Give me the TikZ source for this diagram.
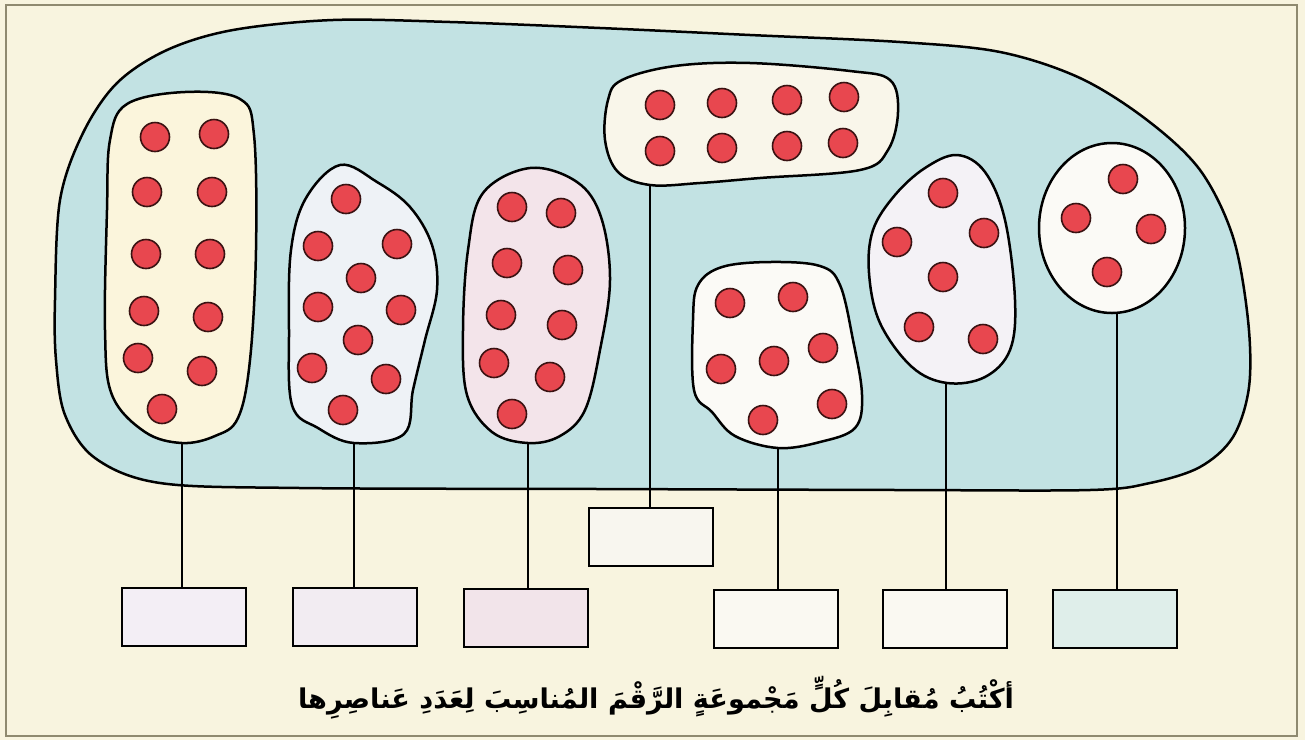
\documentclass[tikz,border=0pt]{standalone}
\usepackage{fontspec}
\usepackage{graphicx}
\newfontfamily\arabicfont[Script=Arabic]{DejaVu Sans}
\TeXXeTstate=1
\definecolor{paper}{HTML}{F8F4DF}
\definecolor{framec}{HTML}{8F8A70}
\definecolor{sea}{HTML}{C2E2E3}
\definecolor{dotred}{HTML}{E8474F}
\definecolor{dotrim}{HTML}{3A1212}
\definecolor{fcream}{HTML}{FBF5DC}
\definecolor{fblue}{HTML}{EEF2F6}
\definecolor{fpink}{HTML}{F3E4EA}
\definecolor{fcream2}{HTML}{F9F6EA}
\definecolor{fwhite}{HTML}{FBFAF6}
\definecolor{flav}{HTML}{F4F2F6}
\definecolor{bx1}{HTML}{F3EEF5}
\definecolor{bx2}{HTML}{F2ECF2}
\definecolor{bx3}{HTML}{F2E4EA}
\definecolor{bx4}{HTML}{F8F6EF}
\definecolor{bx5}{HTML}{FAF9F2}
\definecolor{bx7}{HTML}{DFEEEA}
\tikzset{
  outline/.style={draw=black, line width=1.25pt},
  setblob/.style={outline, smooth cycle, tension=0.6},
  answerbox/.style={draw=black, line width=1.3pt, minimum width=62pt, minimum height=29pt, inner sep=0pt},
  link/.style={draw=black, line width=1pt},
  reddot/.style={fill=dotred, draw=dotrim, line width=0.8pt}
}
\begin{document}
\begin{tikzpicture}[x=0.5pt, y=-0.5pt]
\useasboundingbox (0,0) rectangle (1305,740);
\fill[paper] (0,0) rectangle (1305,740);
\draw[framec, line width=1.2pt] (6,5) rectangle (1297,736);

% big set
\draw[setblob, fill=sea, tension=0.55] plot coordinates {
 (55,300) (60,200) (83,133) (117,83) (167,50) (233,30) (333,20) (450,22)
 (600,28) (750,35) (900,42) (1000,52) (1080,78) (1147,120) (1200,170)
 (1233,237) (1248,320) (1249,387) (1233,437) (1200,467) (1150,483)
 (1090,490) (900,490) (600,489) (300,488) (160,483) (95,458) (65,415) (56,360)};

% set 1
\draw[setblob, fill=fcream] plot coordinates {
 (110,140) (127,104) (185,92) (240,99) (254,135) (256,250) (250,360)
 (238,418) (215,436) (182,443) (145,432) (112,395) (105,330) (107,210)};
\coordinate (b1) at (182,443);
% set 2
\draw[setblob, fill=fblue] plot coordinates {
 (340,165) (377,182) (410,207) (432,245) (437,290) (425,340) (413,390)
 (404,434) (354,443) (318,428) (292,405) (289,330) (291,250) (306,198)};
\coordinate (b2) at (354,443);
% set 3
\draw[setblob, fill=fpink] plot coordinates {
 (530,168) (577,182) (601,217) (610,280) (600,350) (585,410) (560,436)
 (528,443) (492,432) (467,395) (463,330) (468,250) (483,193)};
\coordinate (b3) at (528,443);
% set 4
\draw[setblob, fill=fcream2] plot coordinates {
 (622,80) (675,66) (750,63) (850,71) (890,80) (898,112) (888,150)
 (860,170) (760,178) (700,183) (650,185) (618,172) (605,140) (608,100)};
\coordinate (b4) at (650,185);
% set 5
\draw[setblob, fill=fwhite] plot coordinates {
 (698,285) (722,267) (770,262) (820,266) (840,285) (853,340) (862,395)
 (855,428) (820,442) (778,448) (735,436) (712,412) (694,390) (693,320)};
\coordinate (b5) at (778,448);
% set 6
\draw[setblob, fill=flav] plot coordinates {
 (957,155) (985,172) (1005,220) (1015,300) (1010,350) (985,377) (947,383)
 (912,367) (880,323) (869,273) (873,230) (895,195) (925,168)};
\coordinate (b6) at (946,383);
% set 7
\draw[outline, fill=fwhite] (1112,228) ellipse [x radius=73, y radius=85];
\coordinate (b7) at (1117,313);

% dots
\foreach \p in {(155,137),(214,134),(147,192),(212,192),(146,254),(210,254),
  (144,311),(208,317),(138,358),(202,371),(162,409),
  (346,199),(318,246),(397,244),(361,278),(318,307),(401,310),(358,340),(312,368),(386,379),(343,410),
  (512,207),(561,213),(507,263),(568,270),(501,315),(562,325),(494,363),(550,377),(512,414),
  (660,105),(722,103),(787,100),(844,97),(660,151),(722,148),(787,146),(843,143),
  (730,303),(793,297),(721,369),(774,361),(823,348),(763,420),(832,404),
  (943,193),(897,242),(984,233),(943,277),(919,327),(983,339),
  (1123,179),(1076,218),(1151,229),(1107,272)}
  \draw[reddot] \p circle [radius=14.5];

% answer boxes
\node[answerbox, fill=bx1] (box1) at (184,617) {};
\node[answerbox, fill=bx2] (box2) at (355,617) {};
\node[answerbox, fill=bx3] (box3) at (526,618) {};
\node[answerbox, fill=bx4] (box4) at (651,537) {};
\node[answerbox, fill=bx5] (box5) at (776,619) {};
\node[answerbox, fill=bx5] (box6) at (945,619) {};
\node[answerbox, fill=bx7] (box7) at (1115,619) {};

\draw[link] (b1) -- (b1 |- box1.north);
\draw[link] (b2) -- (b2 |- box2.north);
\draw[link] (b3) -- (b3 |- box3.north);
\draw[link] (b4) -- (b4 |- box4.north);
\draw[link] (b5) -- (b5 |- box5.north);
\draw[link] (b6) -- (b6 |- box6.north);
\draw[link] (b7) -- (b7 |- box7.north);

% instruction
\node[inner sep=0pt] (instr) at (656,698) {\resizebox{358pt}{!}{\arabicfont\bfseries\beginR أكْتُبُ مُقابِلَ كُلٍّ مَجْموعَةٍ الرَّقْمَ المُناسِبَ لِعَدَدِ عَناصِرِها\endR}};
\end{tikzpicture}
\end{document}
